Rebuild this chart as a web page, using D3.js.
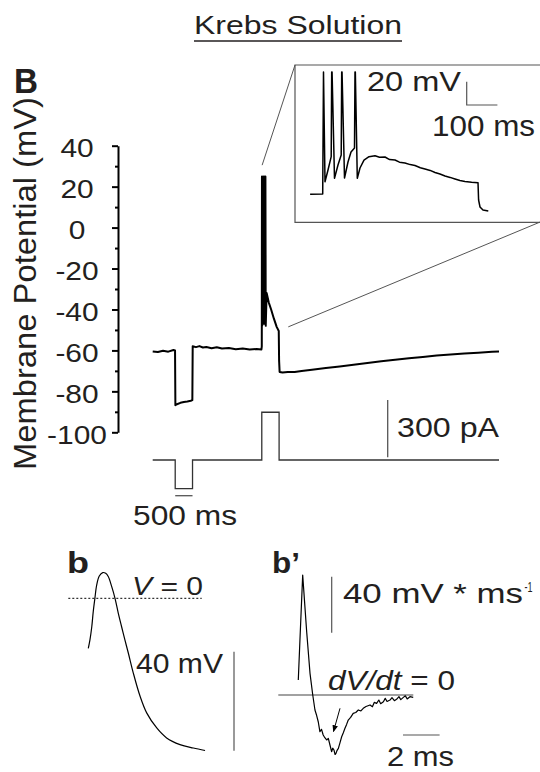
<!DOCTYPE html>
<meta charset="utf-8">
<script src="https://d3js.org/d3.v7.min.js"></script>
<style>
  body { margin: 0; background: #fff; }
  text { font-family: 'Liberation Sans', Arial, Helvetica, sans-serif; fill: #231f20; }
</style>
<div id="fig"></div>
<script>
// ---- data ----
// main voltage trace: time (ms), membrane potential (mV)
var vTime = [0,150,300,450,600,645,655,700,800,900,1000,1100,1145,1155,1250,1350,1450,1550,1700,1850,2000,2200,2400,2600,2800,3000,3140,
  3150,3155,3162,3185,3190,3198,3218,3222,3230,3250,3255,3264,3290,3350,3420,3500,3580,3640,3650,3665,
  3750,3900,4100,4300,4600,5000,5400,5800,6200,6600,7000,7400,7800,8200,8600,9000,9400,9800,10000];
var vMv = [-60.5,-60.8,-60.2,-60.6,-59.8,-60,-86.8,-86.3,-85.6,-85.2,-85,-84.6,-84.3,-58,-58.4,-57.9,-58.6,-58.3,-58.9,-58.5,-59.1,-58.8,-59.4,-59.1,-59.6,-59.3,-59.5,
  -58,25,-48,-30,25,-47,-28,25,-47,-22,25,-48,-32,-36.5,-40,-44.5,-48.5,-50.5,-65,-70.5,
  -70.8,-70.5,-70.6,-70.1,-69.5,-68.6,-67.8,-67,-66.1,-65.3,-64.6,-63.8,-63.2,-62.5,-62,-61.5,-61.1,-60.6,-60.5];
// injected current steps: time (ms), current (pA)
var iTime = [0,650,1150,3150,3650,10000];
var iPa = [0,-150,0,250,0,0];
// y axis ticks
var yTicks = [40,20,0,-20,-40,-60,-80,-100];
var yMinor = [30,10,-10,-30,-50,-70,-90];

// inset (burst enlarged): time from step onset (ms), mV
var inTime = [-41,-1,0,2.6,7.5,17.3,27.7,29.3,30.5,38.4,49.8,60.3,61.9,63,71,82.4,92.2,103.6,105.2,106.3,112.7,121.5,134.5,150.8,170.4,
  185,202.9,218,235.5,250,268,285,300.6,318,333.2,350,365.8,382,398.4,415,431,447,463.5,485,505.9,507.8,512.4,522.1,539.4];
var inMv = [-59,-58.7,-58.7,46,-48.2,-38.1,-26.7,46,46,-45.3,-33.8,-25.3,46,46,-45,-31.3,-22.7,-19.3,46,46,-45.3,-36.4,-29.6,-26.7,-25.9,
  -27.2,-27,-29.2,-29.6,-31.4,-32.1,-33.5,-34.3,-36.2,-37.3,-38.5,-40.3,-41.6,-43.3,-44.5,-45.9,-47.2,-48,-48.6,-49,-63.9,-69.9,-72.5,-73.3];

// panel b: single action potential, time (ms), mV
var bTime = [0,0.09,0.19,0.27,0.36,0.46,0.6,0.79,0.95,1.09,1.28,1.46,1.64,1.82,2.0,2.19,2.46,2.83,3.19,3.74,4.28,5.01,5.74,6.38];
var bMv = [-20.2,-16.8,-11.5,-5.4,0,5.4,9.0,10.4,10.1,8.8,4.7,0,-6.1,-11.5,-16.8,-22.2,-30.2,-39.6,-46.3,-52.4,-56.4,-59.1,-60.5,-61.5];

// panel b': dV/dt, time (ms), mV/ms
var dTime = [0,0.09,0.24,0.46,0.64,0.79,0.91,1.0,1.09,1.18,1.27,1.36,1.45,1.55,1.64,1.73,1.82,1.88,1.95,2.01,2.06,2.12,2.19,2.28,2.37,2.46,2.55,2.64,2.73,2.86,3.0,3.14,3.28,3.42,3.55,3.7,3.92,4.05,4.15,4.28,4.4,4.5,4.65,4.75,4.85,5.01,5.12,5.25,5.37,5.5,5.6,5.74,5.85,5.95,6.1,6.28];
var dVal = [10.7,39.3,85.7,44.8,15.5,0,-10.7,-14.5,-19.1,-26.2,-24.5,-28.6,-30.5,-32.1,-31,-35.7,-40.5,-38,-39.3,-42.5,-41.7,-39.5,-38.1,-34,-29.8,-27,-23.8,-21,-17.9,-16,-13.1,-12.5,-10.7,-11.4,-9.5,-8.2,-7.1,-8.4,-5.3,-5.95,-3.6,-6.2,-4.8,-2.4,-4.6,-3.6,-1.9,-4.1,-3.1,-1.2,-3.3,-1.7,-0.6,-2.8,-1.2,-1.7];

// ---- drawing ----
var W = 540, H = 772;
var svg = d3.select("#fig").append("svg").attr("width", W).attr("height", H);
var ink = "#231f20", thin = "#555";

function addText(str, x, y, size, width, weight) {
  var t = svg.append("text").attr("x", x).attr("y", y)
    .style("font-size", size + "px").text(str);
  if (weight) t.style("font-weight", weight);
  if (width) t.attr("textLength", width).attr("lengthAdjust", "spacingAndGlyphs");
  return t;
}
function seg(x1, y1, x2, y2, col, w) {
  return svg.append("line").attr("x1", x1).attr("y1", y1).attr("x2", x2).attr("y2", y2)
    .attr("stroke", col || thin).attr("stroke-width", w || 1);
}

// title
addText("Krebs Solution", 194, 34, 26, 208);
seg(194, 41, 402, 41, ink, 1.6);
addText("B", 14, 93, 35, 24, "bold");

// main scales
var xMain = d3.scaleLinear().domain([0, 10000]).range([152.7, 499]);
var yMain = d3.scaleLinear().domain([-100, 40]).range([432.3, 145.7]);
var yCur = d3.scaleLinear().domain([0, 300]).range([460, 402.7]);

// y axis
var axisG = svg.append("g").attr("transform", "translate(118,0)");
axisG.call(d3.axisLeft(yMain).tickValues(yTicks).tickSizeInner(6).tickSizeOuter(0)
  .tickFormat(function(d) { return String(d); }));
axisG.select(".domain").attr("stroke", "#000").attr("stroke-width", 2);
axisG.selectAll(".tick line").attr("stroke", "#000").attr("stroke-width", 2);
axisG.selectAll(".tick text")
  .attr("fill", ink).attr("font-family", null)
  .style("font-size", "26px")
  .attr("text-anchor", "middle").attr("x", -41).attr("dy", "0.42em")
  .each(function() {
    var n = this.getComputedTextLength();
    d3.select(this).attr("textLength", n * 1.15).attr("lengthAdjust", "spacingAndGlyphs");
  });
var minorG = svg.append("g").attr("transform", "translate(118,0)");
minorG.call(d3.axisLeft(yMain).tickValues(yMinor).tickSizeInner(3).tickSizeOuter(0).tickFormat(""));
minorG.select(".domain").remove();
minorG.selectAll(".tick line").attr("stroke", "#000").attr("stroke-width", 2);

// y label
svg.append("text")
  .attr("transform", "translate(36,283.5) rotate(-90)")
  .attr("text-anchor", "middle")
  .style("font-size", "31px")
  .attr("textLength", 373).attr("lengthAdjust", "spacingAndGlyphs")
  .text("Membrane Potential (mV)");

// voltage trace
var vLine = d3.line().x(function(d) { return xMain(d[0]); }).y(function(d) { return yMain(d[1]); });
svg.append("path").datum(d3.zip(vTime, vMv)).attr("d", vLine)
  .attr("fill", "none").attr("stroke", "#000").attr("stroke-width", 2).attr("stroke-linejoin", "round");

// current trace
var iLine = d3.line().curve(d3.curveStepAfter)
  .x(function(d) { return xMain(d[0]); }).y(function(d) { return yCur(d[1]); });
svg.append("path").datum(d3.zip(iTime, iPa)).attr("d", iLine)
  .attr("fill", "none").attr("stroke", "#333").attr("stroke-width", 1.3);

// scale bars main
var y300 = 457.3;
seg(387.7, y300, 387.7, y300 - (yCur(0) - yCur(300)), thin, 1.3);
addText("300 pA", 397, 437, 28, 102);
seg(xMain(650), 495.7, xMain(1150), 495.7, thin, 1.3);
addText("500 ms", 133, 525, 28, 104);

// inset box + connectors
svg.append("path").attr("d", "M545,65 H295 V222.3 H545")
  .attr("fill", "none").attr("stroke", thin).attr("stroke-width", 1.2);
seg(xMain(3160), yMain(30.5), 295, 65, thin, 1);
seg(xMain(3915), yMain(-48.5), 545, 220, thin, 1);

// inset trace
var xIn = d3.scaleLinear().domain([0, 100]).range([322.7, 353.4]);
var yIn = d3.scaleLinear().domain([-59, -39]).range([194.3, 171]);
var inLine = d3.line().x(function(d) { return xIn(d[0]); }).y(function(d) { return yIn(d[1]); });
svg.append("path").datum(d3.zip(inTime, inMv)).attr("d", inLine)
  .attr("fill", "none").attr("stroke", "#000").attr("stroke-width", 1.5).attr("stroke-linejoin", "round");
// inset scale bar 20 mV / 100 ms
var sbX = 466.7, sbY = 105;
svg.append("path")
  .attr("d", "M" + sbX + "," + (sbY - (yIn(-59) - yIn(-39))) + " V" + sbY + " H" + (sbX + xIn(100) - xIn(0)))
  .attr("fill", "none").attr("stroke", thin).attr("stroke-width", 1.2);
addText("20 mV", 367, 91, 28, 94);
addText("100 ms", 432, 136, 29, 103);

// panel b
addText("b", 67, 573, 30, 22, "bold");
var xB = d3.scaleLinear().domain([0, 1]).range([88.3, 106.6]);
var yB = d3.scaleLinear().domain([0, 40]).range([598.3, 499.3]);
seg(68.3, yB(0), 201.7, yB(0), "#000", 1).attr("stroke-dasharray", "2,2");
svg.append("path").datum(d3.zip(bTime, bMv))
  .attr("d", d3.line().curve(d3.curveCatmullRom).x(function(d) { return xB(d[0]); }).y(function(d) { return yB(d[1]); }))
  .attr("fill", "none").attr("stroke", "#000").attr("stroke-width", 1.2);
var vt = svg.append("text").attr("x", 132).attr("y", 595).style("font-size", "26px")
  .attr("textLength", 71).attr("lengthAdjust", "spacingAndGlyphs");
vt.append("tspan").style("font-style", "italic").text("V");
vt.append("tspan").text(" = 0");
addText("40 mV", 136, 673, 28, 87);
seg(234, 750.7, 234, 750.7 - (yB(0) - yB(40)), thin, 1.2);

// panel b'
addText("b\u2019", 272, 573, 30, 28, "bold");
var xD = d3.scaleLinear().domain([0, 1]).range([298.3, 316.6]);
var yD = d3.scaleLinear().domain([0, 40]).range([695, 639]);
seg(278.3, yD(0), 413.3, yD(0), "#444", 1.1);
svg.append("path").datum(d3.zip(dTime, dVal))
  .attr("d", d3.line().x(function(d) { return xD(d[0]); }).y(function(d) { return yD(d[1]); }))
  .attr("fill", "none").attr("stroke", "#000").attr("stroke-width", 1.2).attr("stroke-linejoin", "round");
seg(331.7, 576.7, 331.7, 576.7 + (yD(0) - yD(40)), thin, 1.2);
addText("40 mV * ms", 343, 603, 28, 180);
addText("-1", 524.5, 592, 14, 8);
var dt = svg.append("text").attr("x", 328).attr("y", 690).style("font-size", "28px")
  .attr("textLength", 127).attr("lengthAdjust", "spacingAndGlyphs");
dt.append("tspan").style("font-style", "italic").text("dV/dt");
dt.append("tspan").text(" = 0");
// arrow
var defs = svg.append("defs");
defs.append("marker").attr("id", "arr").attr("viewBox", "0 0 10 10").attr("refX", 9).attr("refY", 5)
  .attr("markerWidth", 7).attr("markerHeight", 7).attr("orient", "auto-start-reverse")
  .append("path").attr("d", "M0,1 L10,5 L0,9 Z").attr("fill", "#000");
seg(340, 708.3, 333.5, 731.5, "#000", 1).attr("marker-end", "url(#arr)");
seg(403, 735, 403 + xD(2) - xD(0), 735, thin, 1.2);
addText("2 ms", 387, 766, 28, 67);
</script>
